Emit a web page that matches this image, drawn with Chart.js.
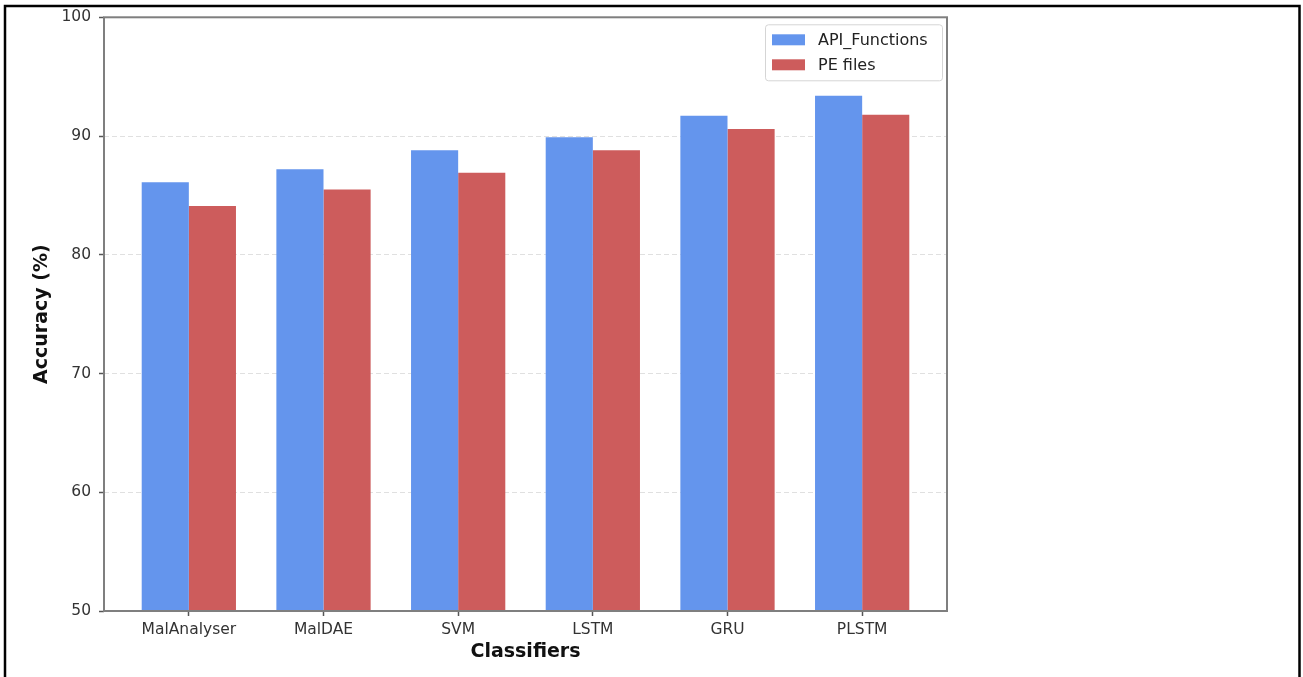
<!DOCTYPE html>
<html>
<head>
<meta charset="utf-8">
<script src="https://cdn.jsdelivr.net/npm/chart.js@4.4.1/dist/chart.umd.min.js"></script>
<style>
  html, body { margin: 0; padding: 0; background: #fff; }
  #wrap { width: 1303px; height: 677px; }
</style>
</head>
<body>
<div id="wrap"><canvas id="accChart" width="1303" height="677"></canvas></div>
<script>
// data
const classifiers = ["MalAnalyser", "MalDAE", "SVM", "LSTM", "GRU", "PLSTM"];
const apiFunctions = [86.1, 87.2, 88.8, 89.9, 91.7, 93.4];
const peFiles = [84.1, 85.5, 86.9, 88.8, 90.6, 91.8];
const yTicks = [50, 60, 70, 80, 90, 100];

Chart.defaults.font.family = "'DejaVu Sans', sans-serif";

// frame round the plot, outer black box and the legend box (top right, inside the plot)
const framePlugin = {
  id: "frame",
  afterDraw(chart) {
    const ctx = chart.ctx;
    const a = chart.chartArea;
    ctx.save();
    ctx.strokeStyle = "#7f7f7f";
    ctx.lineWidth = 2;
    ctx.strokeRect(a.left, a.top, a.right - a.left, a.bottom - a.top);

    ctx.strokeStyle = "#000";
    ctx.lineWidth = 2.5;
    ctx.beginPath();
    ctx.moveTo(5, 700);
    ctx.lineTo(5, 6);
    ctx.lineTo(1299.5, 6);
    ctx.lineTo(1299.5, 700);
    ctx.stroke();

    // legend
    const w = 177, h = 56;
    const x = a.right - 5 - w, y = a.top + 7;
    ctx.fillStyle = "rgba(255,255,255,0.8)";
    ctx.strokeStyle = "#d5d5d5";
    ctx.lineWidth = 1;
    ctx.beginPath();
    ctx.roundRect(x + 0.5, y + 0.5, w, h, 3);
    ctx.fill();
    ctx.stroke();
    ctx.font = "16px 'DejaVu Sans'";
    ctx.textBaseline = "middle";
    chart.data.datasets.forEach((ds, i) => {
      const cy = y + 15.5 + i * 25;
      ctx.fillStyle = ds.backgroundColor;
      ctx.fillRect(x + 7, cy - 5.5, 33, 11);
      ctx.fillStyle = "#222";
      ctx.fillText(ds.label, x + 53, cy + 1);
    });
    ctx.restore();
  }
};

const ctx = document.getElementById("accChart").getContext("2d");
new Chart(ctx, {
  type: "bar",
  data: {
    datasets: [
      {
        label: "API_Functions",
        data: apiFunctions.map((v, i) => ({ x: i, y: v })),
        backgroundColor: "#6495ed",
      },
      {
        label: "PE files",
        data: peFiles.map((v, i) => ({ x: i, y: v })),
        backgroundColor: "#cd5c5c",
      },
    ],
  },
  options: {
    responsive: false,
    animation: false,
    categoryPercentage: 0.7,
    barPercentage: 1.0,
    layout: { padding: { top: 15, right: 356, bottom: 0, left: 0 } },
    plugins: {
      legend: { display: false },
      tooltip: { enabled: false },
    },
    scales: {
      x: {
        type: "linear",
        min: -0.63,
        max: 5.63,
        offset: false,
        afterFit: (scale) => { scale.height = 66; },
        afterBuildTicks: (scale) => {
          scale.ticks = classifiers.map((c, i) => ({ value: i }));
        },
        ticks: {
          autoSkip: false,
          maxRotation: 0,
          padding: 5,
          color: "#333",
          font: { size: 15.5 },
          callback: (v) => classifiers[v],
        },
        grid: {
          offset: false,
          drawOnChartArea: false,
          tickLength: 5,
          tickColor: "#555",
          tickWidth: 1.5,
        },
        border: { display: false },
        title: {
          display: true,
          text: "Classifiers",
          color: "#111",
          font: { size: 19, weight: "bold" },
          padding: { top: 0, bottom: 14 },
        },
      },
      y: {
        min: 50,
        max: 100,
        afterFit: (scale) => { scale.width = 104; },
        afterBuildTicks: (scale) => {
          scale.ticks = yTicks.map((v) => ({ value: v }));
        },
        ticks: {
          padding: 8,
          color: "#333",
          font: { size: 15.5 },
        },
        grid: {
          color: "rgba(0,0,0,0.12)",
          lineWidth: 1,
          tickLength: 5,
          tickColor: "#555",
          tickWidth: 1.5,
          tickBorderDash: [],
        },
        border: { display: false, dash: [5, 3] },
        title: {
          display: true,
          text: "Accuracy (%)",
          color: "#111",
          font: { size: 19, weight: "bold" },
          padding: { top: 31, bottom: 0 },
        },
      },
    },
  },
  plugins: [framePlugin],
});
</script>
</body>
</html>
